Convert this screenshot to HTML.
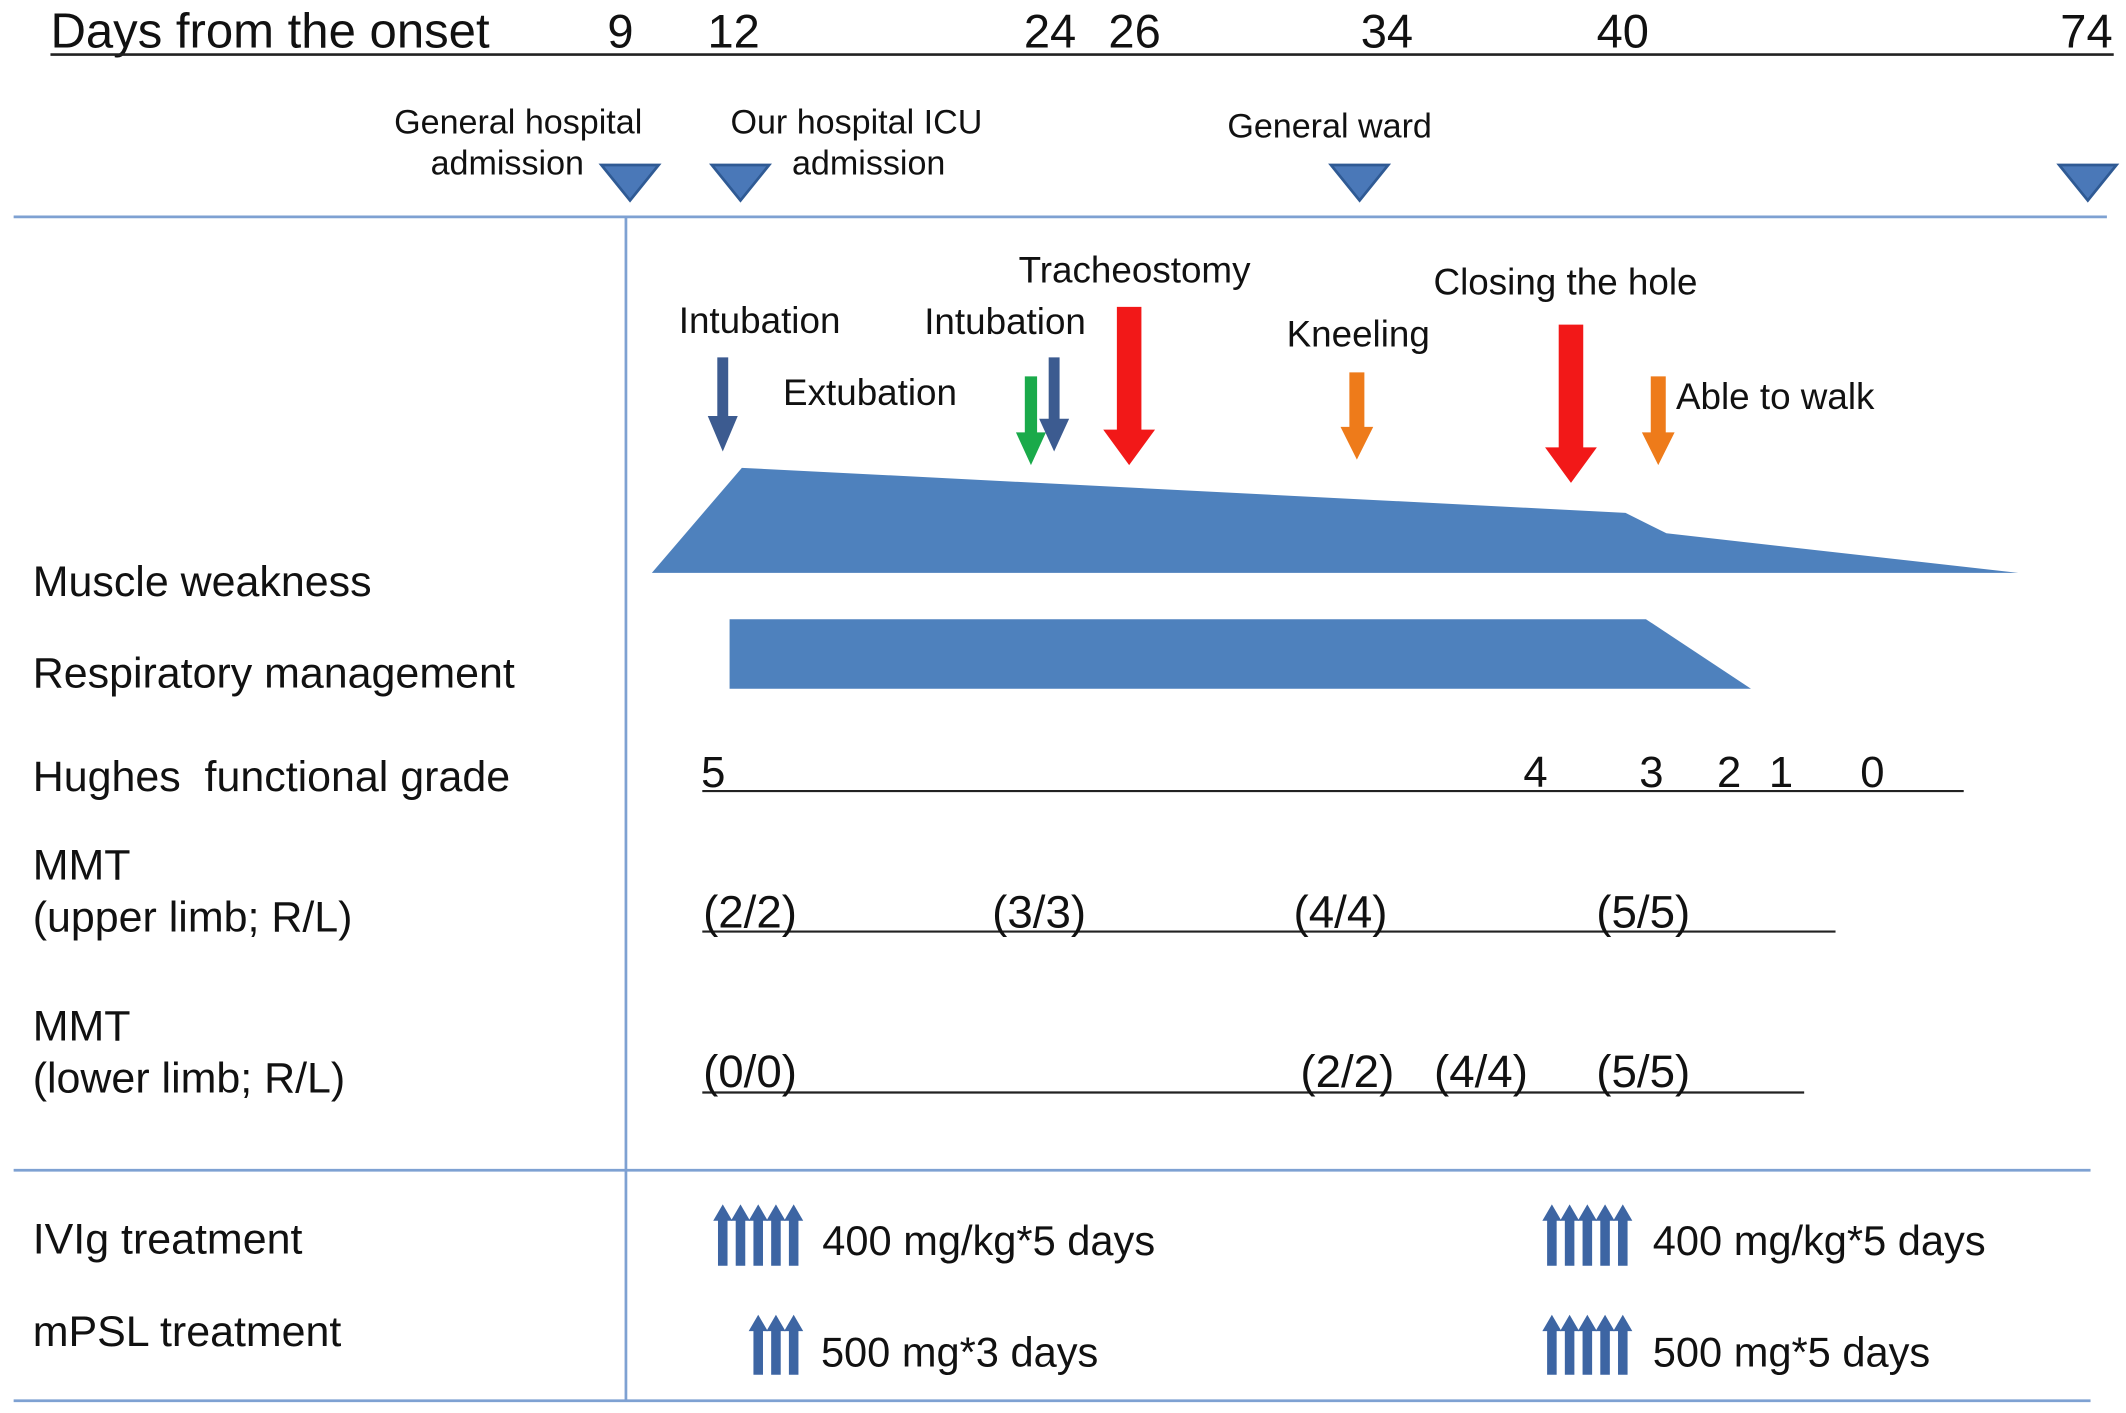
<!DOCTYPE html>
<html><head><meta charset="utf-8">
<style>
html,body{margin:0;padding:0;background:#fff;}
svg{display:block;}
text{font-family:"Liberation Sans",Arial,sans-serif;fill:#111;white-space:pre;}
</style></head>
<body>
<svg id="chart" width="2126" height="1413" viewBox="0 0 1559 1036" preserveAspectRatio="none" xmlns="http://www.w3.org/2000/svg">
</svg>
<script>
// ---- data ----
const dayTicks = [9, 12, 24, 26, 34, 40, 74];
const admissionDays = [9, 12, 34, 74];
const hughesGrades = ["5", "4", "3", "2", "1", "0"];
const mmtUpper = ["(2/2)", "(3/3)", "(4/4)", "(5/5)"];
const mmtLower = ["(0/0)", "(2/2)", "(4/4)", "(5/5)"];
const ivigDoses = ["400 mg/kg*5 days", "400 mg/kg*5 days"];
const mpslDoses = ["500 mg*3 days", "500 mg*5 days"];
const mpslCounts = [3, 5];
const ivigCounts = [5, 5];

// axis: piecewise scale for day labels
const axisAnchorX = [455, 538, 770, 832, 1017, 1190, 1530];
function xDay(d){
  for(let i=0;i<dayTicks.length-1;i++){
    if(d<=dayTicks[i+1]){const t=(d-dayTicks[i])/(dayTicks[i+1]-dayTicks[i]);return axisAnchorX[i]+t*(axisAnchorX[i+1]-axisAnchorX[i]);}
  }
  return axisAnchorX[axisAnchorX.length-1];
}

const NS="http://www.w3.org/2000/svg";
const svg=document.getElementById('chart');
function mk(tag,attrs,txt){const e=document.createElementNS(NS,tag);for(const k in attrs)e.setAttribute(k,attrs[k]);if(txt!==undefined)e.textContent=txt;svg.appendChild(e);return e;}

let e;
// header
e=mk('text',{x:37,y:35,'font-size':36},'Days from the onset');


e=mk('line',{x1:37,y1:40,x2:1550,y2:40,stroke:'#222','stroke-width':2});


dayTicks.forEach(d=>{
  e=mk('text',{x:xDay(d),y:35,'font-size':34.5,'text-anchor':'middle'},String(d));
  
  
});
// admission triangles
const triOffset=[7,5,-20,1];
admissionDays.forEach((d,i)=>{
  const cx=xDay(d)+triOffset[i];
  e=mk('polygon',{points:`${cx-21},121 ${cx+21},121 ${cx},147`,fill:'#4a78b8',stroke:'#2f5a94','stroke-width':2});
  
  
});
function label(x,y,s,t,name,anchor){e=mk('text',{x:x,y:y,'font-size':s,'text-anchor':anchor||'middle'},t);}
label(380,98,25,'General hospital','general-hospital-label');
label(372,128,25,'admission','general-hospital-label-2');
label(628,98,25,'Our hospital ICU','icu-label');
label(637,128,25,'admission','icu-label-2');
label(975,101,25,'General ward','general-ward-label');

// grid lines
function ln(x1,y1,x2,y2,name){e=mk('line',{x1,y1,x2,y2,stroke:'#7ea1d2','stroke-width':2});}
ln(10,159,1545,159,'top-divider');
ln(459,159,459,1027,'vertical-divider');
ln(10,858,1533,858,'treatment-divider');
ln(10,1027,1533,1027,'bottom-divider');

// event arrows
function darrow(x,y1,y2,w,hw,hh,color,name){
  e=mk('polygon',{points:`${x-w/2},${y1} ${x+w/2},${y1} ${x+w/2},${y2-hh} ${x+hw/2},${y2-hh} ${x},${y2} ${x-hw/2},${y2-hh} ${x-w/2},${y2-hh}`,fill:color});
  
  
}
label(557,244,27,'Intubation','intubation-label');
darrow(530,262,331,8,22,26,'#3c5b90','intubation-arrow');
label(638,297,27,'Extubation','extubation-label');
darrow(756,276,341,9,22,24,'#1aaa4a','extubation-arrow');
label(737,245,27,'Intubation','intubation-2-label');
darrow(773,262,331,8,22,24,'#3c5b90','intubation-2-arrow');
label(832,207,27,'Tracheostomy','tracheostomy-label');
darrow(828,225,341,18,38,26,'#f21818','tracheostomy-arrow');
label(996,254,27,'Kneeling','kneeling-label');
darrow(995,273,337,11,24,24,'#ee7b1a','kneeling-arrow');
label(1148,216,27,'Closing the hole','closing-hole-label');
darrow(1152,238,354,18,38,26,'#f21818','closing-hole-arrow');
label(1229,300,27,'Able to walk','able-to-walk-label','start');
darrow(1216,276,341,11,24,24,'#ee7b1a','able-to-walk-arrow');

// bars
e=mk('polygon',{points:'478,420 544,343 1192,376 1222,391 1480,420',fill:'#4e81bd'});


e=mk('polygon',{points:'535,454 1207,454 1284,505 535,505',fill:'#4e81bd'});



// row labels
const RL=31.5;
label(24,437,RL,'Muscle weakness','muscle-weakness-label','start');
label(24,504,RL,'Respiratory management','respiratory-label','start');
label(24,580,RL,'Hughes  functional grade','hughes-label','start');
label(24,645,RL,'MMT','mmt-upper-label','start');
label(24,683,RL,'(upper limb; R/L)','mmt-upper-sub','start');
label(24,763,RL,'MMT','mmt-lower-label','start');
label(24,801,RL,'(lower limb; R/L)','mmt-lower-sub','start');
label(24,919,RL,'IVIg treatment','ivig-label','start');
label(24,987,RL,'mPSL treatment','mpsl-label','start');

// Hughes
function bl(x1,y,x2,name){e=mk('line',{x1,y1:y,x2,y2:y,stroke:'#222','stroke-width':1.6});}
bl(515,580,1440,'hughes-line');
const hughesX=[523,1126,1211,1268,1306,1373];
hughesGrades.forEach((g,i)=>{label(hughesX[i],577,32,g,'hughes-grade');});
bl(515,683,1346,'mmt-upper-line');
const upX=[550,762,983,1205];
mmtUpper.forEach((v,i)=>label(upX[i],680,33.5,v,'mmt-upper-value'));
bl(515,801,1323,'mmt-lower-line');
const loX=[550,988,1086,1205];
mmtLower.forEach((v,i)=>label(loX[i],797,33.5,v,'mmt-lower-value'));

// treatment arrow groups
function upGroup(xEnd,n,yTop,yBot,name){
  for(let i=0;i<n;i++){
    const x=xEnd-i*13;
    e=mk('polygon',{points:`${x-3.5},${yBot} ${x+3.5},${yBot} ${x+3.5},${yTop+12} ${x+7},${yTop+12} ${x},${yTop} ${x-7},${yTop+12} ${x-3.5},${yTop+12}`,fill:'#3d65a3'});
    
    
  }
}
const ivigX=[582,1190],doseTextX=[603,1212],mpslTextX=[602,1212];
ivigCounts.forEach((n,i)=>{upGroup(ivigX[i],n,883,928,'ivig-dose-arrow');label(doseTextX[i],920,30.5,ivigDoses[i],'ivig-dose-text','start');});
mpslCounts.forEach((n,i)=>{upGroup(ivigX[i],n,964,1008,'mpsl-dose-arrow');label(mpslTextX[i],1002,30.5,mpslDoses[i],'mpsl-dose-text','start');});
</script>
</body></html>
